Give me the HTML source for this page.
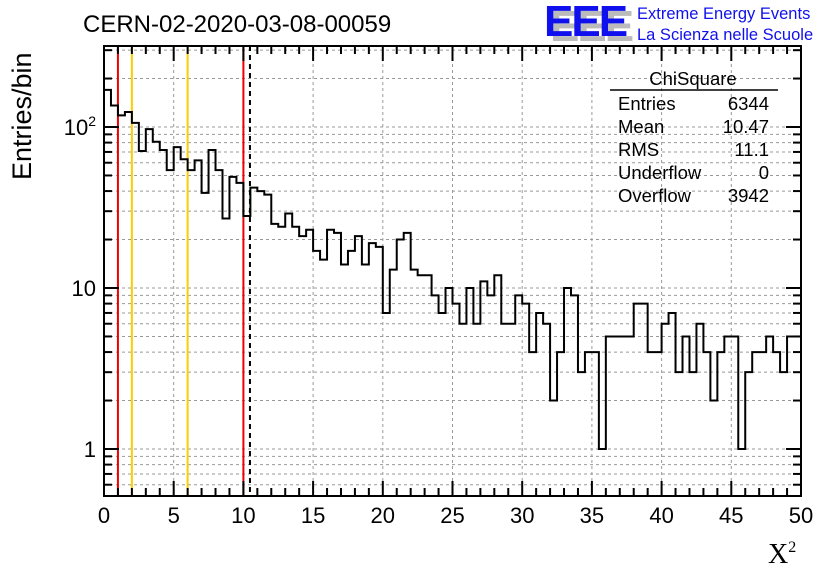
<!DOCTYPE html>
<html><head><meta charset="utf-8"><style>
body{margin:0;background:#fff;}
svg{display:block;font-family:"Liberation Sans",sans-serif;}
</style></head><body>
<svg id="chart" width="836" height="572" viewBox="0 0 836 572">
<rect width="836" height="572" fill="#fff"/>
<g id="grid"></g>
<g id="vlines"></g>
<path id="hist" fill="none" stroke="#000" stroke-width="2"/>
<g id="axes"></g>
<text x="83" y="32" font-size="24">CERN-02-2020-03-08-00059</text>
<g>
<text x="550" y="41" font-size="44" font-weight="bold" fill="#bbb" letter-spacing="-2">EEE</text>
<text x="544" y="36" font-size="44" font-weight="bold" fill="#1010ee" letter-spacing="-2">EEE</text>
<text x="637" y="19" font-size="16.5" fill="#1010ee">Extreme Energy Events</text>
<text x="637" y="40" font-size="16.5" fill="#1010ee">La Scienza nelle Scuole</text>
</g>
<g font-size="18.5">
<text x="693" y="85" text-anchor="middle">ChiSquare</text>
<line x1="610" y1="90" x2="778" y2="90" stroke="#000" stroke-width="1.5"/>
<text x="618" y="110">Entries</text><text x="769" y="110" text-anchor="end">6344</text>
<text x="618" y="133">Mean</text><text x="769" y="133" text-anchor="end">10.47</text>
<text x="618" y="156">RMS</text><text x="769" y="156" text-anchor="end">11.1</text>
<text x="618" y="179">Underflow</text><text x="769" y="179" text-anchor="end">0</text>
<text x="618" y="202">Overflow</text><text x="769" y="202" text-anchor="end">3942</text>
</g>
<text x="0" y="0" font-size="27" transform="translate(31,180) rotate(-90)">Entries/bin</text>
<text x="768" y="563" font-size="28" font-family="Liberation Serif,serif">X<tspan font-size="16" dy="-11">2</tspan></text>
</svg>
<script>
const counts=[170,136,118,124,106,71,97,81,72,54,75,63,54,62,39,72,54,27,49,45,28,42,40,38,25,24,29,24,21,23,17,15,23,22,14,17,21,14,19,18,7,13,20,22,13,12,12,9,7,10,8,6,10,6,11,9,12,6,6,9,8,4,7,6,2,4,10,9,3,4,4,1,5,5,5,5,8,8,4,4,6,7,3,5,3,6,4,2,4,5,5,1,3,4,4,5,4,3,5,5];
const xTicks=[0,5,10,15,20,25,30,35,40,45,50];
const yMajor=[1,10,100];
const yMajorLabels=["1","10","10²"];
const refLines=[{x:1,c:"#ee0000"},{x:2,c:"#ffcc00"},{x:6,c:"#ffcc00"},{x:10,c:"#ee0000"}];
const meanLine=10.47;
const binWidth=0.5;
const X0=104,X1=801,Y0=496,Y1=46,xMin=0,xMax=50;
const yMinV=Math.pow(10,(449-496)/161), yMaxV=Math.pow(10,(449-46)/161);
const xs=v=>X0+(v-xMin)/(xMax-xMin)*(X1-X0);
const ys=v=>449-Math.log10(v)*161;
const NS="http://www.w3.org/2000/svg";
function mk(tag,attrs,parent){const e=document.createElementNS(NS,tag);for(const k in attrs)e.setAttribute(k,attrs[k]);parent.appendChild(e);return e;}
const grid=document.getElementById('grid'),axes=document.getElementById('axes'),vl=document.getElementById('vlines');
for(const t of xTicks){if(t===xMin||t===xMax)continue;const l=mk('line',{x1:xs(t),x2:xs(t),y1:Y1,y2:Y0,stroke:'#999','stroke-dasharray':'3,3'},grid);

}
for(let d=0.1;d<=100;d*=10){for(let m=1;m<=9;m++){const v=Math.round(d*m*100)/100;if(v<yMinV||v>yMaxV)continue;const y=ys(v);
const l=mk('line',{x1:X0,x2:X1,y1:y,y2:y,stroke:'#999','stroke-dasharray':'3,3'},grid);


const major=(m===1);const len=major?15:8;
mk('line',{x1:X0,x2:X0+len,y1:y,y2:y,stroke:'#000','stroke-width':2},axes);
mk('line',{x1:X1-len,x2:X1,y1:y,y2:y,stroke:'#000','stroke-width':2},axes);}}
for(const r of refLines){const l=mk('line',{x1:xs(r.x),x2:xs(r.x),y1:Y1,y2:Y0,stroke:r.c,'stroke-width':2},vl);

}
const ml=mk('line',{x1:xs(meanLine),x2:xs(meanLine),y1:Y1,y2:Y0,stroke:'#000','stroke-width':2,'stroke-dasharray':'5,4'},vl);


let d='M'+xs(0)+' '+Y0;
counts.forEach((c,i)=>{const y=ys(c);d+=' L'+xs(i*binWidth)+' '+y+' L'+xs((i+1)*binWidth)+' '+y;});
document.getElementById('hist').setAttribute('d',d);
mk('rect',{x:X0,y:Y1,width:X1-X0,height:Y0-Y1,fill:'none',stroke:'#000','stroke-width':2},axes);
for(let v=xMin;v<=xMax;v++){const major=v%5===0;const len=major?15:8;const x=xs(v);
mk('line',{x1:x,x2:x,y1:Y0,y2:Y0-len,stroke:'#000','stroke-width':2},axes);
mk('line',{x1:x,x2:x,y1:Y1,y2:Y1+len,stroke:'#000','stroke-width':2},axes);}
for(const t of xTicks){const tx=mk('text',{x:xs(t),y:523,'font-size':22,'text-anchor':'middle'},axes);tx.textContent=t;

}
yMajor.forEach((v,i)=>{const tx=mk('text',{x:96,y:ys(v)+8,'font-size':22,'text-anchor':'end'},axes);
if(yMajorLabels[i]==="10²"){tx.textContent="10";const ts=mk('tspan',{'font-size':14,dy:-9},tx);ts.textContent="2";}else tx.textContent=yMajorLabels[i];

});
</script>
</body></html>
